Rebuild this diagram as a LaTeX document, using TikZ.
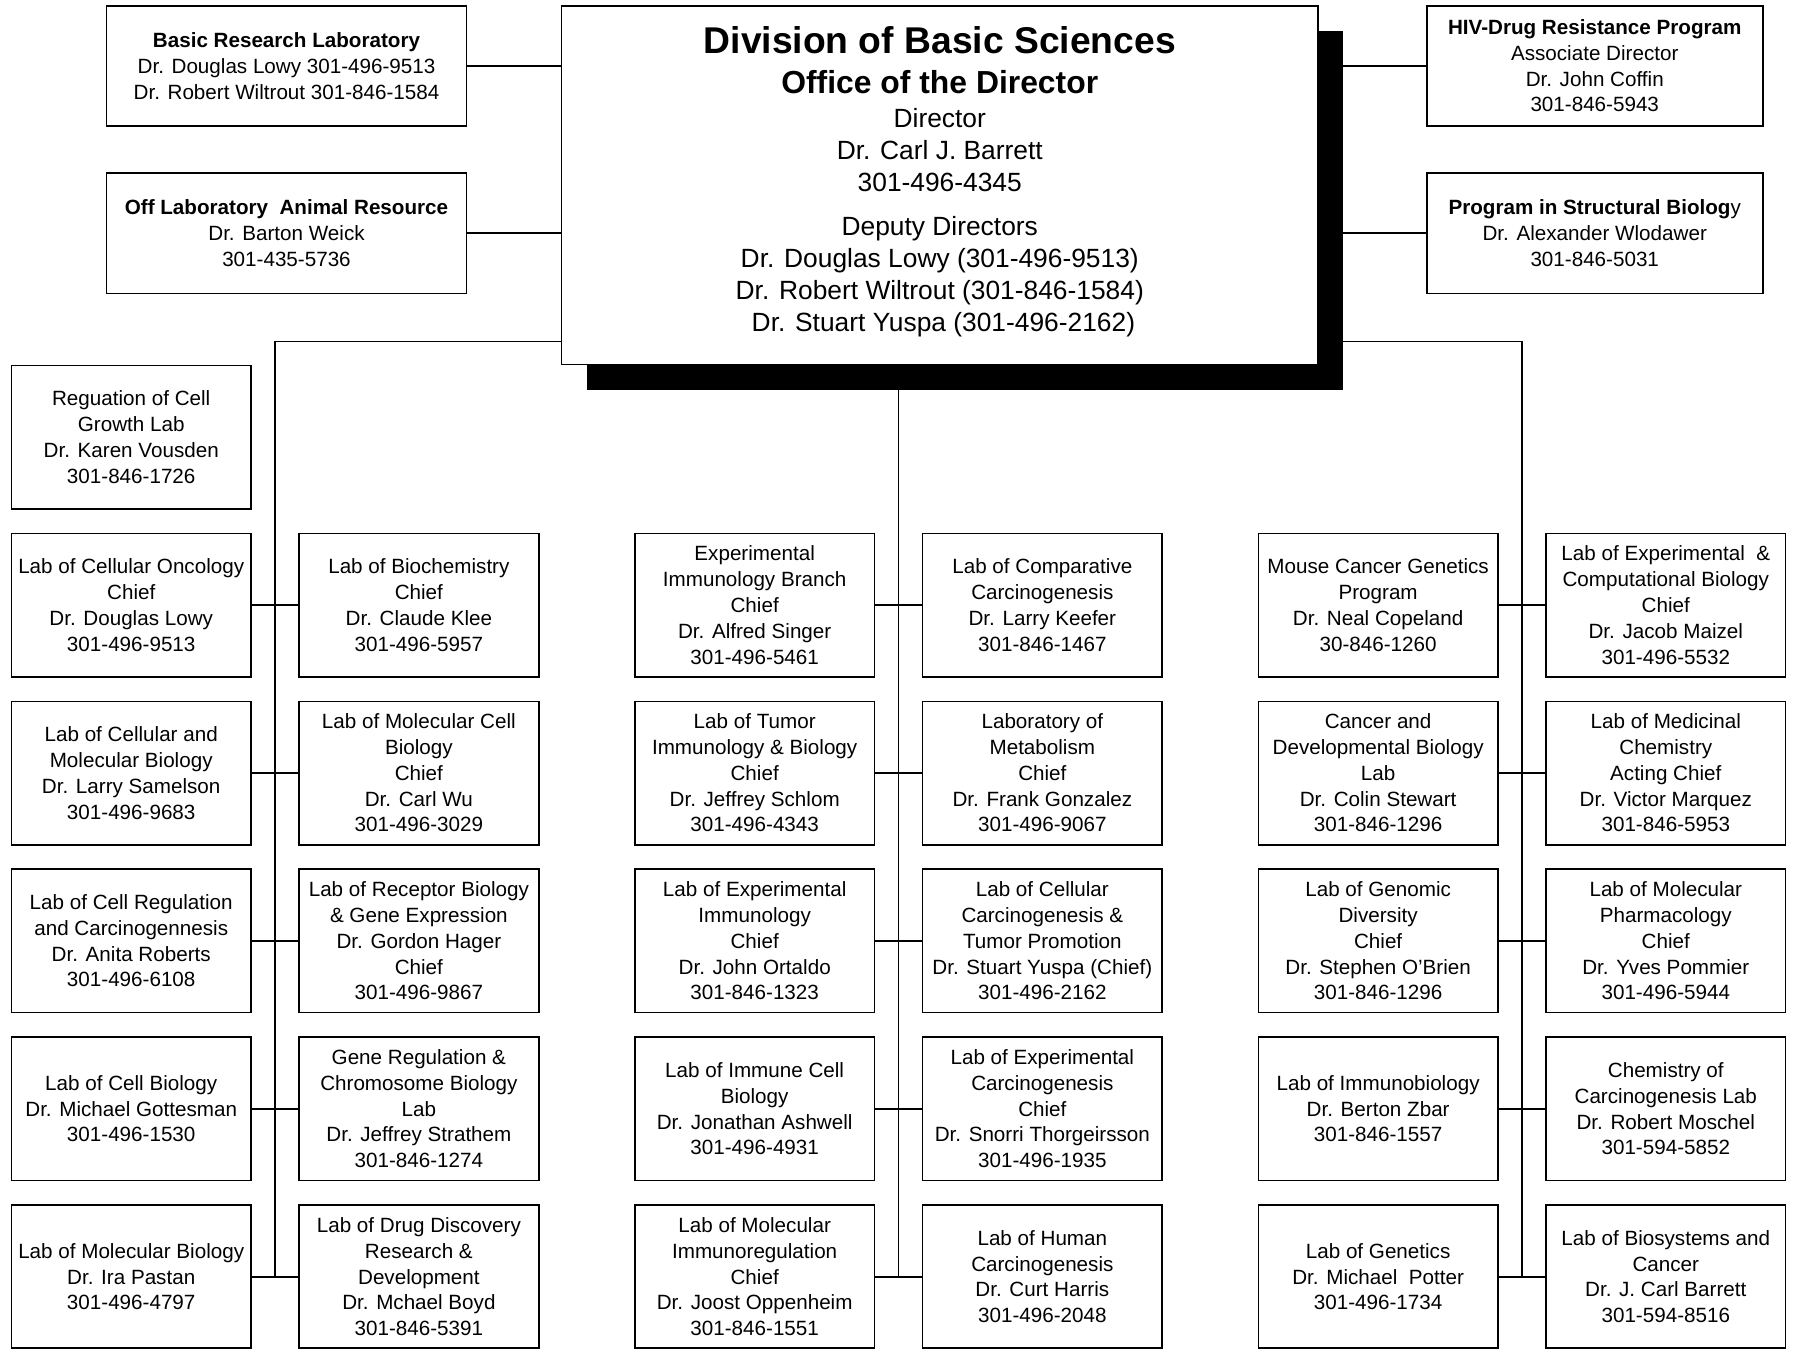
\documentclass[tikz,border=0pt]{standalone}
\usepackage{fontspec}
\setmainfont{Liberation Sans}
\usetikzlibrary{positioning,calc,shadows}

\tikzset{
  lab/.style={draw, line width=1.5pt, minimum width=209pt, minimum height=125pt,
    inner sep=0pt, align=center, font=\fontsize{18}{22.5}\selectfont},
  topbox/.style={draw, line width=1.5pt, minimum height=105pt,
    inner sep=0pt, align=center, font=\fontsize{18}{22.5}\selectfont},
  link/.style={line width=1.5pt},
}

\begin{document}
\begin{tikzpicture}[x=1pt, y=-1pt]
    \useasboundingbox (0,0) rectangle (1568,1182);

    % Office of the Director
    \node[draw, line width=1.5pt, fill=white, minimum width=660pt, minimum height=313pt,
          inner sep=0pt, align=center, font=\fontsize{23}{28}\selectfont,
          drop shadow={shadow xshift=22pt, shadow yshift=-22pt, fill=black, opacity=1}]
        (dir) at (820,161.5) {%
        {\fontsize{32.5}{37}\selectfont\bfseries Division of Basic Sciences}\\[7pt]
        {\fontsize{27.8}{33}\selectfont\bfseries Office of the Director}\\[2pt]
        Director\\ Dr. Carl J. Barrett\\ 301-496-4345\\[10pt]
        Deputy Directors\\ Dr. Douglas Lowy (301-496-9513)\\
        Dr. Robert Wiltrout (301-846-1584)\\ \ Dr. Stuart Yuspa (301-496-2162)\\[-17pt]\mbox{}};

    % Staff offices beside the director
    \node[topbox, minimum width=314pt] (brl) at (250,57.5)
        {\textbf{Basic Research Laboratory}\\ Dr. Douglas Lowy 301-496-9513\\ Dr. Robert Wiltrout 301-846-1584};
    \node[topbox, minimum width=314pt] (olar) at (250,203.5)
        {\textbf{Off Laboratory\ \ Animal Resource}\\ Dr. Barton Weick\\ 301-435-5736};
    \node[topbox, minimum width=293pt] (hiv) at (1391.5,57.5)
        {\textbf{HIV-Drug Resistance Program}\\ Associate Director\\ Dr. John Coffin\\ 301-846-5943};
    \node[topbox, minimum width=293pt] (psb) at (1391.5,203.5)
        {\textbf{Program in Structural Biolog}y\\ Dr. Alexander Wlodawer\\ 301-846-5031};

    \draw[link] (brl.east) -- (brl.east -| dir.west);
    \draw[link] (olar.east) -- (olar.east -| dir.west);
    \draw[link] (hiv.west) -- (hiv.west -| dir.east);
    \draw[link] (psb.west) -- (psb.west -| dir.east);

    % Left group
    \node[lab] (a0) at (114.5,381.5) {Reguation of Cell\\ Growth Lab\\ Dr. Karen Vousden\\ 301-846-1726};
    \node[lab] (a1) at (114.5,528) {Lab of Cellular Oncology\\ Chief\\ Dr. Douglas Lowy\\ 301-496-9513};
    \node[lab] (a2) at (114.5,674.5) {Lab of Cellular and\\ Molecular Biology\\ Dr. Larry Samelson\\ 301-496-9683};
    \node[lab] (a3) at (114.5,821) {Lab of Cell Regulation\\ and Carcinogennesis\\ Dr. Anita Roberts\\ 301-496-6108};
    \node[lab] (a4) at (114.5,967.5) {Lab of Cell Biology\\ Dr. Michael Gottesman\\ 301-496-1530};
    \node[lab] (a5) at (114.5,1114) {Lab of Molecular Biology\\ Dr. Ira Pastan\\ 301-496-4797};

    \node[lab] (b1) at (365.5,528) {Lab of Biochemistry\\ Chief\\ Dr. Claude Klee\\ 301-496-5957};
    \node[lab] (b2) at (365.5,674.5) {Lab of Molecular Cell\\ Biology\\ Chief\\ Dr. Carl Wu\\ 301-496-3029};
    \node[lab] (b3) at (365.5,821) {Lab of Receptor Biology\\ \& Gene Expression\\ Dr. Gordon Hager\\ Chief\\ 301-496-9867};
    \node[lab] (b4) at (365.5,967.5) {Gene Regulation \&\\ Chromosome Biology\\ Lab\\ Dr. Jeffrey Strathem\\ 301-846-1274};
    \node[lab] (b5) at (365.5,1114) {Lab of Drug Discovery\\ Research \&\\ Development\\ Dr. Mchael Boyd\\ 301-846-5391};

    % Middle group
    \node[lab] (c1) at (658.5,528) {Experimental\\ Immunology Branch\\ Chief\\ Dr. Alfred Singer\\ 301-496-5461};
    \node[lab] (c2) at (658.5,674.5) {Lab of Tumor\\ Immunology \& Biology\\ Chief\\ Dr. Jeffrey Schlom\\ 301-496-4343};
    \node[lab] (c3) at (658.5,821) {Lab of Experimental\\ Immunology\\ Chief\\ Dr. John Ortaldo\\ 301-846-1323};
    \node[lab] (c4) at (658.5,967.5) {Lab of Immune Cell\\ Biology\\ Dr. Jonathan Ashwell\\ 301-496-4931};
    \node[lab] (c5) at (658.5,1114) {Lab of Molecular\\ Immunoregulation\\ Chief\\ Dr. Joost Oppenheim\\ 301-846-1551};

    \node[lab] (d1) at (909.5,528) {Lab of Comparative\\ Carcinogenesis\\ Dr. Larry Keefer\\ 301-846-1467};
    \node[lab] (d2) at (909.5,674.5) {Laboratory of\\ Metabolism\\ Chief\\ Dr. Frank Gonzalez\\ 301-496-9067};
    \node[lab] (d3) at (909.5,821) {Lab of Cellular\\ Carcinogenesis \&\\ Tumor Promotion\\ Dr. Stuart Yuspa (Chief)\\ 301-496-2162};
    \node[lab] (d4) at (909.5,967.5) {Lab of Experimental\\ Carcinogenesis\\ Chief\\ Dr. Snorri Thorgeirsson\\ 301-496-1935};
    \node[lab] (d5) at (909.5,1114) {Lab of Human\\ Carcinogenesis\\ Dr. Curt Harris\\ 301-496-2048};

    % Right group
    \node[lab] (e1) at (1202.5,528) {Mouse Cancer Genetics\\ Program\\ Dr. Neal Copeland\\ 30-846-1260};
    \node[lab] (e2) at (1202.5,674.5) {Cancer and\\ Developmental Biology\\ Lab\\ Dr. Colin Stewart\\ 301-846-1296};
    \node[lab] (e3) at (1202.5,821) {Lab of Genomic\\ Diversity\\ Chief\\ Dr. Stephen O'Brien\\ 301-846-1296};
    \node[lab] (e4) at (1202.5,967.5) {Lab of Immunobiology\\ Dr. Berton Zbar\\ 301-846-1557};
    \node[lab] (e5) at (1202.5,1114) {Lab of Genetics\\ Dr. Michael\ \ Potter\\ 301-496-1734};

    \node[lab] (f1) at (1453.5,528) {Lab of Experimental\ \ \&\\ Computational Biology\\ Chief\\ Dr. Jacob Maizel\\ 301-496-5532};
    \node[lab] (f2) at (1453.5,674.5) {Lab of Medicinal\\ Chemistry\\ Acting Chief\\ Dr. Victor Marquez\\ 301-846-5953};
    \node[lab] (f3) at (1453.5,821) {Lab of Molecular\\ Pharmacology\\ Chief\\ Dr. Yves Pommier\\ 301-496-5944};
    \node[lab] (f4) at (1453.5,967.5) {Chemistry of\\ Carcinogenesis Lab\\ Dr. Robert Moschel\\ 301-594-5852};
    \node[lab] (f5) at (1453.5,1114) {Lab of Biosystems and\\ Cancer\\ Dr. J. Carl Barrett\\ 301-594-8516};

    % Trunk lines
    \coordinate (lbus) at (240,298);
    \coordinate (rbus) at (1328,298);
    \coordinate (cbus) at (784,318);
    \draw[link] (dir.west |- lbus) -- (lbus) -- (lbus |- a5.east);
    \draw[link] (dir.east |- rbus) -- (rbus) -- (rbus |- e5.east);
    \draw[link] (cbus |- dir.south) -- (cbus |- c5.east);

    % Branches
    \draw[link] (a1.east) -- (b1.west);
    \draw[link] (a2.east) -- (b2.west);
    \draw[link] (a3.east) -- (b3.west);
    \draw[link] (a4.east) -- (b4.west);
    \draw[link] (a5.east) -- (b5.west);
    \draw[link] (c1.east) -- (d1.west);
    \draw[link] (c2.east) -- (d2.west);
    \draw[link] (c3.east) -- (d3.west);
    \draw[link] (c4.east) -- (d4.west);
    \draw[link] (c5.east) -- (d5.west);
    \draw[link] (e1.east) -- (f1.west);
    \draw[link] (e2.east) -- (f2.west);
    \draw[link] (e3.east) -- (f3.west);
    \draw[link] (e4.east) -- (f4.west);
    \draw[link] (e5.east) -- (f5.west);

\end{tikzpicture}
\end{document}
